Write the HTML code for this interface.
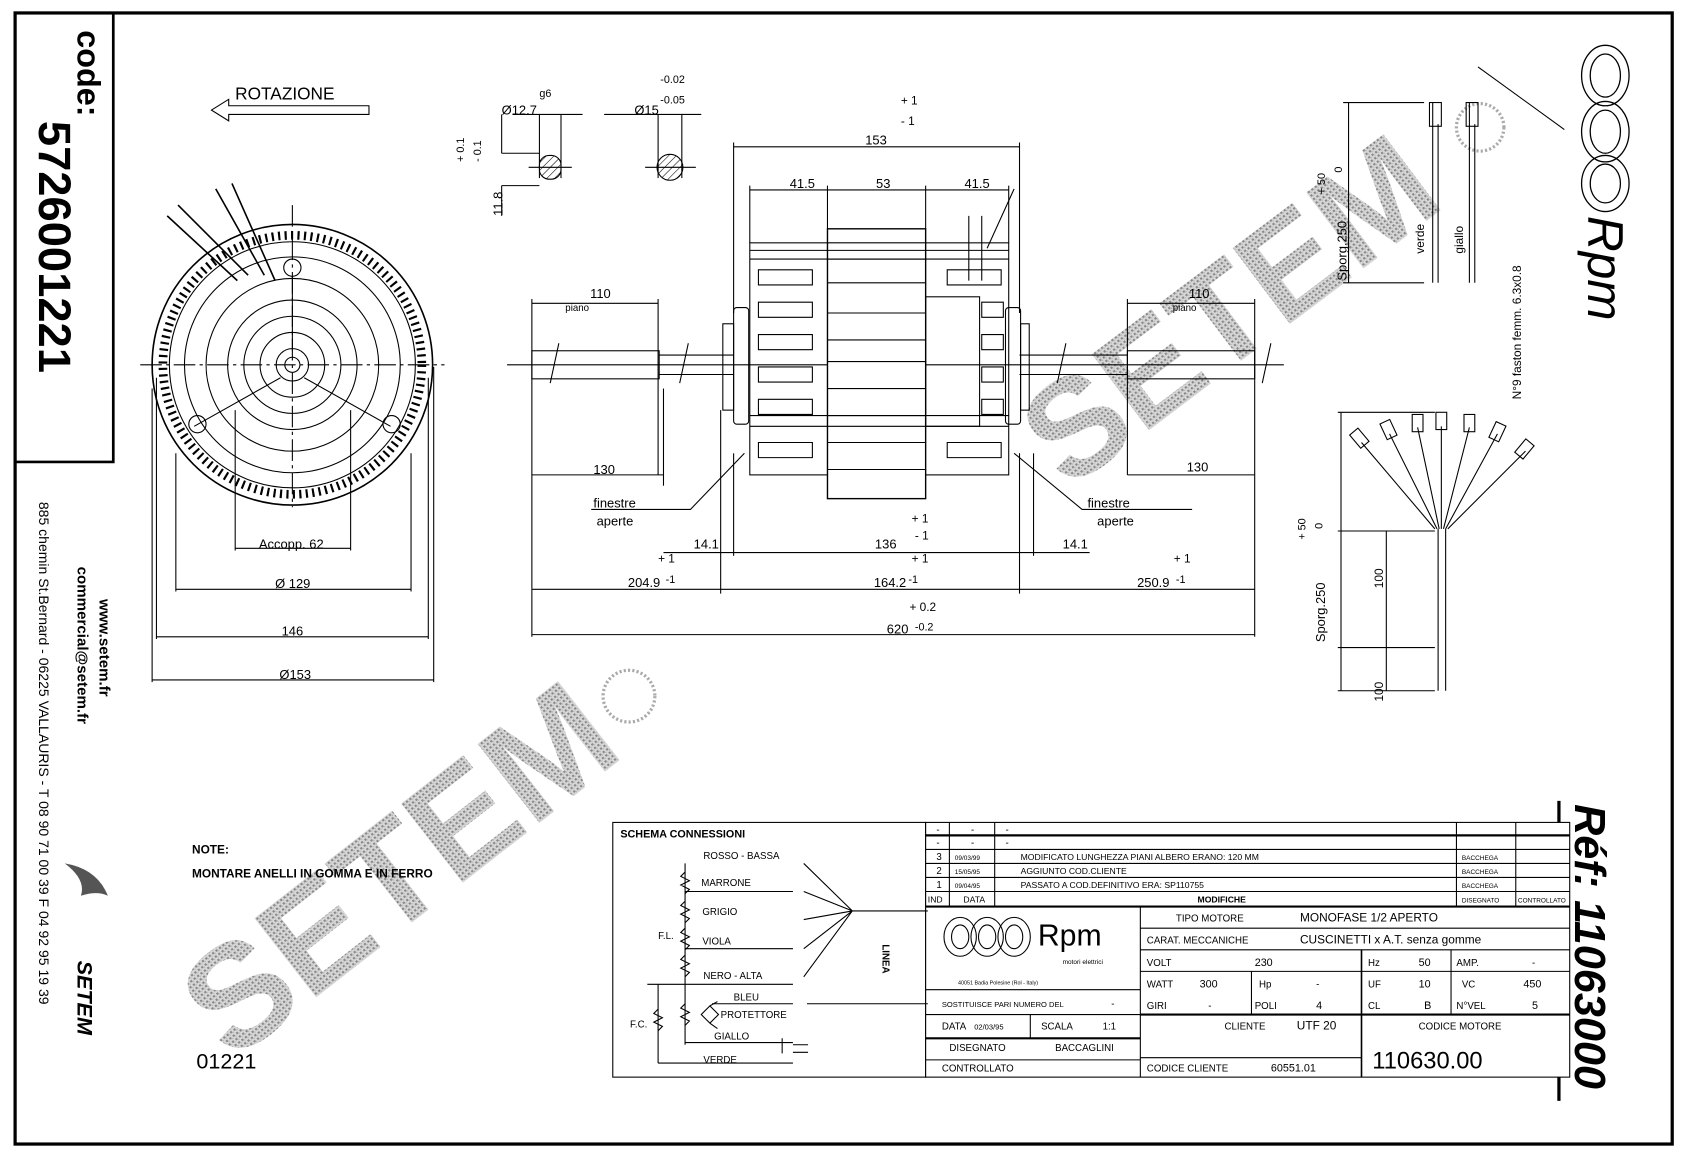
<!DOCTYPE html>
<html><head><meta charset="utf-8"><style>
html,body{margin:0;padding:0;background:#fff}
svg{display:block}
text{font-family:"Liberation Sans",sans-serif;fill:#000}
</style></head><body>
<svg width="1683" height="1157" viewBox="0 0 1560 1072" preserveAspectRatio="none" xmlns="http://www.w3.org/2000/svg">
<rect x="0" y="0" width="1560" height="1072" fill="#fff"/>
<!-- watermarks -->
<defs>
<pattern id="dots" width="4" height="4" patternUnits="userSpaceOnUse"><rect width="4" height="4" fill="#d8d8d8"/><rect x="0" y="0" width="2" height="2" fill="#888"/><rect x="2" y="2" width="1" height="1" fill="#aaa"/></pattern>
<pattern id="h" width="5" height="5" patternUnits="userSpaceOnUse" patternTransform="rotate(45)"><line x1="0" y1="0" x2="0" y2="5" stroke="#000"/></pattern>
</defs>
<g font-weight="bold">
<text transform="translate(215,985) rotate(-38)" font-size="135" style="fill:url(#dots)">SETEM</text>
<text transform="translate(990,455) rotate(-37)" font-size="128" style="fill:url(#dots)">SETEM</text>
</g>
<g fill="none" stroke="#aaa" stroke-width="3" stroke-dasharray="2,2">
<circle cx="583" cy="645" r="24"/><circle cx="1372" cy="118" r="22"/>
</g>
<!-- frame -->
<rect x="14" y="12" width="1536" height="1048" fill="none" stroke="#000" stroke-width="3"/>
<polyline points="105,12 105,428 14,428" fill="none" stroke="#000" stroke-width="2.5"/>
<g transform="translate(72,28) rotate(90)"><text font-size="30" font-weight="bold">code:</text></g>
<g transform="translate(36,112) rotate(90)"><text font-size="42" font-weight="bold">5726001221</text></g>
<g transform="translate(92,555) rotate(90)"><text font-size="14" font-weight="bold">www.setem.fr</text></g>
<g transform="translate(72,525) rotate(90)"><text font-size="14" font-weight="bold">commercial@setem.fr</text></g>
<g transform="translate(36,465) rotate(90)"><text font-size="13">885 chemin St.Bernard  -  06225 VALLAURIS  -  T 08 90 71 00 39   F 04 92 95 19 39</text></g>
<g transform="translate(72,890) rotate(90)"><text font-size="20" font-weight="bold" font-style="italic">SETEM</text></g>
<path d="M60,800 q30,5 40,30 q-10,-5 -25,0 q5,-15 -15,-30z" fill="#555"/>
<!-- right side -->
<g fill="none" stroke="#000" stroke-width="1.2">
<ellipse cx="1488" cy="70" rx="22" ry="28"/><ellipse cx="1488" cy="70" rx="14" ry="20"/>
<ellipse cx="1488" cy="122" rx="22" ry="28"/><ellipse cx="1488" cy="122" rx="14" ry="20"/>
<ellipse cx="1488" cy="170" rx="22" ry="26"/><ellipse cx="1488" cy="170" rx="14" ry="18"/>
</g>
<g transform="translate(1472,200) rotate(90)"><text font-size="46" font-style="italic">Rpm</text></g>
<line x1="1445" y1="742" x2="1445" y2="1020" stroke="#000" stroke-width="3"/>
<g transform="translate(1460,745) rotate(90)"><text font-size="40" font-weight="bold" font-style="italic">Réf: 11063000</text></g>

<!-- ROTAZIONE -->
<text x="218" y="92" font-size="16">ROTAZIONE</text>
<path d="M342,98 H212 V92 L196,102 L212,112 V106 H342z" fill="none" stroke="#000"/>

<!-- front view -->
<g fill="none" stroke="#000" stroke-width="1">
<line x1="130" y1="338" x2="412" y2="338" stroke-dasharray="20,4,3,4"/>
<line x1="271" y1="190" x2="271" y2="470" stroke-dasharray="20,4,3,4"/>
<circle cx="271" cy="338" r="130" stroke-width="1.5"/>
<circle cx="271" cy="338" r="114"/>
<circle cx="271" cy="338" r="120" stroke-width="8" stroke-dasharray="2,4"/>
<circle cx="271" cy="338" r="100"/>
<circle cx="271" cy="338" r="80"/>
<circle cx="271" cy="338" r="60"/>
<circle cx="271" cy="338" r="45"/>
<circle cx="271" cy="338" r="30"/>
<circle cx="271" cy="338" r="15"/>
<circle cx="271" cy="338" r="7"/>
<circle cx="183" cy="393" r="8"/><circle cx="363" cy="393" r="8"/><circle cx="271" cy="248" r="8"/>
<path d="M180,395 L260,350 M362,395 L282,350 M271,256 V325"/>
<path d="M155,200 L220,260 M165,190 L230,255 M200,175 L245,255 M215,170 L255,260" stroke-width="1.5"/>
<line x1="218" y1="380" x2="218" y2="510"/><line x1="325" y1="380" x2="325" y2="510"/>
<line x1="218" y1="508" x2="325" y2="508"/>
<line x1="163" y1="420" x2="163" y2="548"/><line x1="381" y1="420" x2="381" y2="548"/>
<line x1="163" y1="546" x2="381" y2="546"/>
<line x1="145" y1="350" x2="145" y2="592"/><line x1="397" y1="350" x2="397" y2="592"/>
<line x1="145" y1="590" x2="397" y2="590"/>
<line x1="141" y1="360" x2="141" y2="632"/><line x1="402" y1="340" x2="402" y2="632"/>
<line x1="141" y1="630" x2="402" y2="630"/>
</g>
<text x="240" y="508" font-size="12">Accopp. 62</text>
<text x="255" y="545" font-size="12">Ø 129</text>
<text x="261" y="589" font-size="12">146</text>
<text x="259" y="629" font-size="12">Ø153</text>

<!-- shaft sections -->
<g fill="none" stroke="#000" stroke-width="1">
<line x1="475" y1="106" x2="540" y2="106"/><line x1="560" y1="106" x2="650" y2="106"/>
<line x1="500" y1="106" x2="500" y2="165"/><line x1="520" y1="106" x2="520" y2="165"/>
<line x1="610" y1="106" x2="610" y2="165"/><line x1="632" y1="106" x2="632" y2="165"/>
<line x1="465" y1="106" x2="465" y2="142"/><line x1="465" y1="142" x2="500" y2="142"/>
<line x1="465" y1="172" x2="500" y2="172"/><line x1="465" y1="172" x2="465" y2="200"/>
<rect x="500" y="144" width="20" height="22" rx="9" fill="url(#h)"/>
<circle cx="621" cy="155" r="12" fill="url(#h)"/>
<line x1="490" y1="155" x2="530" y2="155"/><line x1="598" y1="155" x2="645" y2="155"/>
</g>
<text x="500" y="90" font-size="10">g6</text>
<text x="465" y="106" font-size="12">Ø12.7</text>
<text x="588" y="106" font-size="12">Ø15</text>
<text x="612" y="77" font-size="10">-0.02</text>
<text x="612" y="96" font-size="10">-0.05</text>
<g transform="translate(430,150) rotate(-90)"><text font-size="10">+ 0.1</text></g>
<g transform="translate(446,150) rotate(-90)"><text font-size="10">- 0.1</text></g>
<g transform="translate(466,200) rotate(-90)"><text font-size="12">11.8</text></g>

<!-- side view -->
<g fill="none" stroke="#000" stroke-width="1">
<line x1="470" y1="338" x2="1190" y2="338"/>
<rect x="493" y="325" width="118" height="26"/>
<line x1="611" y1="329" x2="680" y2="329"/><line x1="611" y1="347" x2="680" y2="347"/>
<rect x="1045" y="325" width="118" height="26"/>
<line x1="945" y1="329" x2="1045" y2="329"/><line x1="945" y1="347" x2="1045" y2="347"/>
<rect x="680" y="285" width="14" height="108" rx="3"/><rect x="670" y="300" width="10" height="80"/>
<rect x="932" y="285" width="14" height="108" rx="3"/><rect x="946" y="300" width="8" height="80"/>
<rect x="695" y="225" width="240" height="215"/>
<rect x="767" y="212" width="91" height="250" stroke-width="1.3" fill="#fff"/>
<line x1="767" y1="225" x2="858" y2="225"/><line x1="767" y1="240" x2="858" y2="240"/>
<line x1="767" y1="262" x2="858" y2="262"/><line x1="767" y1="290" x2="858" y2="290"/>
<line x1="767" y1="315" x2="858" y2="315"/><line x1="767" y1="335" x2="858" y2="335"/>
<line x1="767" y1="360" x2="858" y2="360"/><line x1="767" y1="385" x2="858" y2="385"/>
<line x1="767" y1="410" x2="858" y2="410"/><line x1="767" y1="435" x2="858" y2="435"/>
<rect x="858" y="275" width="50" height="120"/>
<line x1="695" y1="232" x2="935" y2="232"/><line x1="695" y1="240" x2="935" y2="240"/>
<line x1="695" y1="385" x2="935" y2="385"/><line x1="695" y1="395" x2="935" y2="395"/>
<path d="M703,250 h50 v14 h-50z M703,280 h50 v14 h-50z M703,310 h50 v14 h-50z M703,340 h50 v14 h-50z M703,370 h50 v14 h-50z M703,410 h50 v14 h-50z"/>
<path d="M878,250 h50 v14 h-50z M878,410 h50 v14 h-50z M910,280 h20 v14 h-20z M910,310 h20 v14 h-20z M910,340 h20 v14 h-20z M910,370 h20 v14 h-20z"/>
<path d="M898,200 v60 M910,200 v60 M915,230 L940,175"/>
<line x1="680" y1="132" x2="680" y2="290"/><line x1="945" y1="132" x2="945" y2="290"/>
<line x1="680" y1="136" x2="945" y2="136"/>
<line x1="695" y1="172" x2="695" y2="225"/><line x1="767" y1="172" x2="767" y2="212"/><line x1="858" y1="172" x2="858" y2="212"/><line x1="935" y1="172" x2="935" y2="225"/>
<line x1="695" y1="176" x2="935" y2="176"/>
<line x1="493" y1="277" x2="493" y2="545"/><line x1="610" y1="277" x2="610" y2="440"/>
<line x1="493" y1="281" x2="610" y2="281"/>
<line x1="1045" y1="277" x2="1045" y2="440"/><line x1="1163" y1="277" x2="1163" y2="590"/>
<line x1="1045" y1="281" x2="1163" y2="281"/>
<line x1="493" y1="440" x2="615" y2="440"/><line x1="1045" y1="440" x2="1163" y2="440"/>
<line x1="615" y1="360" x2="615" y2="450"/>
<line x1="668" y1="380" x2="668" y2="550"/><line x1="680" y1="420" x2="680" y2="515"/>
<line x1="945" y1="420" x2="945" y2="550"/><line x1="958" y1="420" x2="958" y2="515"/>
<line x1="615" y1="512" x2="680" y2="512"/><line x1="945" y1="512" x2="1010" y2="512"/>
<line x1="680" y1="512" x2="945" y2="512"/>
<line x1="493" y1="546" x2="668" y2="546"/><line x1="668" y1="546" x2="958" y2="546"/><line x1="958" y1="546" x2="1163" y2="546"/>
<line x1="493" y1="545" x2="493" y2="590"/>
<line x1="493" y1="588" x2="1163" y2="588"/>
<path d="M548,472 H640 L690,420 M1105,472 H1003 L940,420"/>
<path d="M510,355 L518,318 M630,355 L638,318 M980,355 L988,318 M1170,355 L1178,318"/>
</g>
<text x="802" y="134" font-size="12">153</text>
<text x="835" y="97" font-size="11">+ 1</text><text x="835" y="116" font-size="11">- 1</text>
<text x="732" y="174" font-size="12">41.5</text><text x="812" y="174" font-size="12">53</text><text x="894" y="174" font-size="12">41.5</text>
<text x="547" y="276" font-size="12">110</text><text x="524" y="288" font-size="9">piano</text>
<text x="1102" y="276" font-size="12">110</text><text x="1087" y="288" font-size="9">piano</text>
<text x="550" y="439" font-size="12">130</text><text x="1100" y="437" font-size="12">130</text>
<text x="550" y="470" font-size="12">finestre</text><text x="553" y="487" font-size="12">aperte</text>
<text x="1008" y="470" font-size="12">finestre</text><text x="1017" y="487" font-size="12">aperte</text>
<text x="643" y="508" font-size="12">14.1</text><text x="985" y="508" font-size="12">14.1</text>
<text x="811" y="508" font-size="12">136</text>
<text x="845" y="484" font-size="11">+ 1</text><text x="848" y="500" font-size="11">- 1</text>
<text x="845" y="521" font-size="11">+ 1</text><text x="810" y="544" font-size="12">164.2</text><text x="842" y="540" font-size="10">-1</text>
<text x="610" y="521" font-size="11">+ 1</text><text x="582" y="544" font-size="12">204.9</text><text x="617" y="540" font-size="10">-1</text>
<text x="1088" y="521" font-size="11">+ 1</text><text x="1054" y="544" font-size="12">250.9</text><text x="1090" y="540" font-size="10">-1</text>
<text x="843" y="566" font-size="11">+ 0.2</text><text x="822" y="587" font-size="12">620</text><text x="848" y="584" font-size="10">-0.2</text>

<!-- wires -->
<g fill="none" stroke="#000" stroke-width="1">
<line x1="1328" y1="95" x2="1328" y2="262"/><line x1="1333" y1="115" x2="1333" y2="262"/>
<rect x="1325" y="95" width="11" height="22"/>
<line x1="1362" y1="95" x2="1362" y2="262"/><line x1="1367" y1="115" x2="1367" y2="262"/>
<rect x="1359" y="95" width="11" height="22"/>
<line x1="1245" y1="95" x2="1320" y2="95"/><line x1="1245" y1="262" x2="1320" y2="262"/>
<line x1="1250" y1="95" x2="1250" y2="262"/>
<path d="M1370,62 L1450,120"/>
<line x1="1240" y1="382" x2="1330" y2="382"/><line x1="1240" y1="640" x2="1330" y2="640"/><line x1="1240" y1="492" x2="1330" y2="492"/><line x1="1240" y1="600" x2="1330" y2="600"/>
<line x1="1243" y1="382" x2="1243" y2="640"/><line x1="1285" y1="492" x2="1285" y2="640"/>
<path d="M1330,490 L1262,410 M1332,490 L1288,402 M1334,490 L1314,396 M1336,490 L1336,395 M1338,490 L1362,396 M1340,490 L1388,402 M1342,490 L1414,418 M1333,490 V640 M1340,490 V640"/>
<rect x="1255" y="398" width="10" height="16" transform="rotate(-40 1260 406)"/>
<rect x="1282" y="390" width="10" height="16" transform="rotate(-25 1287 398)"/>
<rect x="1309" y="384" width="10" height="16"/>
<rect x="1331" y="382" width="10" height="16"/>
<rect x="1357" y="384" width="10" height="16"/>
<rect x="1383" y="392" width="10" height="16" transform="rotate(25 1388 400)"/>
<rect x="1408" y="408" width="10" height="16" transform="rotate(40 1413 416)"/>
</g>
<g transform="translate(1228,180) rotate(-90)"><text font-size="10">+ 50</text></g>
<g transform="translate(1244,160) rotate(-90)"><text font-size="10">0</text></g>
<g transform="translate(1248,260) rotate(-90)"><text font-size="12">Sporg.250</text></g>
<g transform="translate(1320,235) rotate(-90)"><text font-size="11">verde</text></g>
<g transform="translate(1356,235) rotate(-90)"><text font-size="11">giallo</text></g>
<g transform="translate(1410,370) rotate(-90)"><text font-size="11">N°9 faston femm. 6.3x0.8</text></g>
<g transform="translate(1210,500) rotate(-90)"><text font-size="10">+ 50</text></g>
<g transform="translate(1226,490) rotate(-90)"><text font-size="10">0</text></g>
<g transform="translate(1228,595) rotate(-90)"><text font-size="12">Sporg.250</text></g>
<g transform="translate(1282,545) rotate(-90)"><text font-size="11">100</text></g>
<g transform="translate(1282,650) rotate(-90)"><text font-size="11">100</text></g>

<text x="178" y="791" font-size="11" font-weight="bold">NOTE:</text>
<text x="178" y="813" font-size="11" font-weight="bold">MONTARE ANELLI IN GOMMA E IN FERRO</text>
<text x="182" y="990" font-size="20" font-family="Liberation Serif">01221</text>

<!-- table -->
<g fill="none" stroke="#000" stroke-width="1">
<rect x="568" y="762" width="290" height="236" fill="#fff"/>
<rect x="858" y="762" width="597" height="236" fill="#fff"/>
<line x1="858" y1="774" x2="1455" y2="774" stroke-width="2"/>
<line x1="858" y1="787" x2="1455" y2="787"/><line x1="858" y1="800" x2="1455" y2="800"/><line x1="858" y1="813" x2="1455" y2="813"/><line x1="858" y1="826" x2="1455" y2="826"/>
<line x1="858" y1="840" x2="1455" y2="840" stroke-width="2"/>
<line x1="880" y1="762" x2="880" y2="840"/><line x1="922" y1="762" x2="922" y2="840"/><line x1="1350" y1="762" x2="1350" y2="840"/><line x1="1405" y1="762" x2="1405" y2="840"/>
<line x1="1057" y1="840" x2="1057" y2="998"/>
<line x1="1057" y1="860" x2="1455" y2="860"/><line x1="1057" y1="880" x2="1455" y2="880"/><line x1="1057" y1="900" x2="1455" y2="900"/><line x1="1057" y1="940" x2="1455" y2="940" stroke-width="2"/>
<line x1="1160" y1="900" x2="1160" y2="940"/><line x1="1262" y1="880" x2="1262" y2="998" stroke-width="1.5"/><line x1="1345" y1="880" x2="1345" y2="940"/>
<line x1="858" y1="917" x2="1057" y2="917"/><line x1="858" y1="940" x2="1057" y2="940"/><line x1="858" y1="962" x2="1057" y2="962" stroke-width="2"/><line x1="858" y1="982" x2="1057" y2="982"/>
<line x1="955" y1="940" x2="955" y2="962"/>
<line x1="1057" y1="980" x2="1262" y2="980"/>
<path d="M635,800 V905 M635,905 V968 M610,912 V985"/>
<path d="M635,808 l-4,4 8,4 -8,4 8,4 -4,4 M635,835 l-4,4 8,4 -8,4 8,4 -4,4 M635,860 l-4,4 8,4 -8,4 8,4 -4,4 M635,885 l-4,4 8,4 -8,4 8,4 -4,4 M635,930 l-4,4 8,4 -8,4 8,4 -4,4 M610,935 l-4,4 8,4 -8,4 8,4 -4,4"/>
<path d="M635,826 H735 M635,879 H735 M635,966 H735 M600,912 H735 M610,985 H735 M660,930 H735"/>
<path d="M725,962 v14 M735,968 h14 M735,975 h14"/>
<path d="M650,940 l8,-8 8,8 -8,8z M658,932 L665,928 M658,948 L665,953"/>
<path d="M745,800 L790,844 L745,826 M790,844 L745,852 M790,844 L745,879 M790,844 L745,905 M790,844 H860 M748,930 H860"/>
</g>
<g font-size="9">
<text x="575" y="776" font-size="10" font-weight="bold">SCHEMA CONNESSIONI</text>
<text x="652" y="796">ROSSO - BASSA</text><text x="650" y="821">MARRONE</text><text x="651" y="848">GRIGIO</text><text x="651" y="875">VIOLA</text><text x="652" y="907">NERO - ALTA</text>
<text x="680" y="927">BLEU</text><text x="668" y="943">PROTETTORE</text><text x="662" y="963">GIALLO</text><text x="652" y="985">VERDE</text>
<text x="610" y="870">F.L.</text><text x="584" y="952">F.C.</text>
<text x="868" y="772">-</text><text x="900" y="772">-</text><text x="932" y="772">-</text>
<text x="868" y="784">-</text><text x="900" y="784">-</text><text x="932" y="784">-</text>
<text x="868" y="797">3</text><text x="885" y="797" font-size="6">09/03/99</text><text x="946" y="797" font-size="8">MODIFICATO LUNGHEZZA PIANI ALBERO ERANO: 120 MM</text><text x="1355" y="797" font-size="6">BACCHEGA</text>
<text x="868" y="810">2</text><text x="885" y="810" font-size="6">15/05/95</text><text x="946" y="810" font-size="8">AGGIUNTO COD.CLIENTE</text><text x="1355" y="810" font-size="6">BACCHEGA</text>
<text x="868" y="823">1</text><text x="885" y="823" font-size="6">09/04/95</text><text x="946" y="823" font-size="8">PASSATO A COD.DEFINITIVO ERA: SP110755</text><text x="1355" y="823" font-size="6">BACCHEGA</text>
<text x="860" y="836" font-size="8">IND</text><text x="893" y="836" font-size="8">DATA</text><text x="1110" y="836" font-size="8" font-weight="bold">MODIFICHE</text><text x="1355" y="836" font-size="6">DISEGNATO</text><text x="1407" y="836" font-size="6">CONTROLLATO</text>
<text x="962" y="876" font-size="28">Rpm</text><text x="985" y="893" font-size="6">motori elettrici</text><text x="888" y="912" font-size="5">40051 Badia Polesine (Rol - Italy)</text>
<text x="873" y="933" font-size="7">SOSTITUISCE PARI NUMERO DEL</text><text x="1030" y="933">-</text>
<text x="873" y="954">DATA</text><text x="903" y="954" font-size="7">02/03/95</text><text x="965" y="954">SCALA</text><text x="1022" y="954">1:1</text>
<text x="880" y="974">DISEGNATO</text><text x="978" y="974">BACCAGLINI</text>
<text x="873" y="993">CONTROLLATO</text>
<text x="1090" y="854">TIPO MOTORE</text><text x="1205" y="854" font-size="11">MONOFASE 1/2 APERTO</text>
<text x="1063" y="874">CARAT. MECCANICHE</text><text x="1205" y="874" font-size="11">CUSCINETTI x A.T.  senza gomme</text>
<text x="1063" y="895">VOLT</text><text x="1163" y="895" font-size="10">230</text><text x="1268" y="895">Hz</text><text x="1315" y="895" font-size="10">50</text><text x="1350" y="895">AMP.</text><text x="1420" y="895">-</text>
<text x="1063" y="915">WATT</text><text x="1112" y="915" font-size="10">300</text><text x="1167" y="915">Hp</text><text x="1220" y="915">-</text><text x="1268" y="915">UF</text><text x="1315" y="915" font-size="10">10</text><text x="1355" y="915">VC</text><text x="1412" y="915" font-size="10">450</text>
<text x="1063" y="935">GIRI</text><text x="1120" y="935">-</text><text x="1163" y="935">POLI</text><text x="1220" y="935" font-size="10">4</text><text x="1268" y="935">CL</text><text x="1320" y="935" font-size="10">B</text><text x="1350" y="935">N°VEL</text><text x="1420" y="935" font-size="10">5</text>
<text x="1135" y="954">CLIENTE</text><text x="1202" y="954" font-size="11">UTF 20</text>
<text x="1063" y="993">CODICE CLIENTE</text><text x="1178" y="993" font-size="10">60551.01</text>
<text x="1315" y="954">CODICE MOTORE</text>
<text x="1272" y="990" font-size="22">110630.00</text>
</g>
<g transform="translate(818,875) rotate(90)"><text font-size="9" font-weight="bold">LINEA</text></g>
<g fill="none" stroke="#000" stroke-width="1">
<ellipse cx="890" cy="868" rx="15" ry="18"/><ellipse cx="915" cy="868" rx="15" ry="18"/><ellipse cx="940" cy="868" rx="15" ry="18"/>
<ellipse cx="890" cy="868" rx="8" ry="11"/><ellipse cx="915" cy="868" rx="8" ry="11"/><ellipse cx="940" cy="868" rx="8" ry="11"/>
</g>
</svg>
</body></html>
